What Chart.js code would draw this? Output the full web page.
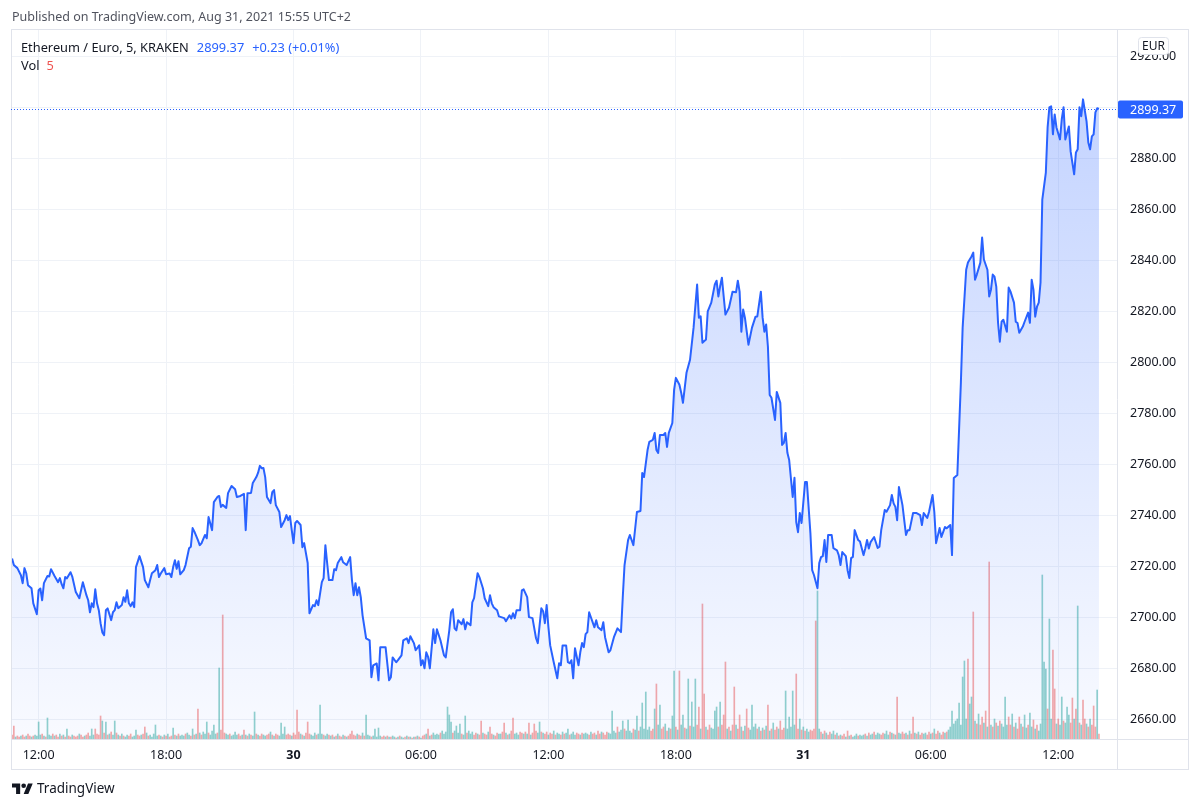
<!DOCTYPE html>
<html>
<head>
<meta charset="utf-8">
<title>ETH/EUR 5m</title>
<script src="https://cdn.jsdelivr.net/npm/chart.js@4.4.0/dist/chart.umd.min.js"></script>
<style>
  body { margin: 0; background: #fff; font-family: "Noto Sans", sans-serif; }
  #wrap { position: relative; width: 1200px; height: 808px; overflow: hidden; }
  #myChart { position: absolute; left: 0; top: 0; }
  .txt { position: absolute; white-space: nowrap; font-size: 13px; line-height: 16px; color: #131722; }
  .blue { color: #2962ff; margin-left: 8px; }
</style>
</head>
<body>
<div id="wrap">
  <canvas id="myChart" width="1200" height="808"></canvas>
  <div class="txt" style="left:12px;top:9px;color:#50535e;font-size:12.5px">Published on TradingView.com, Aug 31, 2021 15:55 UTC+2</div>
  <div class="txt" style="left:21px;top:39px;font-size:12.8px">Ethereum / Euro, 5, KRAKEN<span class="blue">2899.37</span><span class="blue">+0.23 (+0.01%)</span></div>
  <div class="txt" style="left:21px;top:57px;font-size:12.8px">Vol<span style="color:#ef5350;margin-left:7px">5</span></div>
  <svg style="position:absolute;left:12px;top:781px" width="21" height="16.5" viewBox="0 0 36 28">
    <path fill="#131722" d="M14 22H7V11H0V4h14v18zM28 22h-8l7.5-18h8L28 22z"/><circle fill="#131722" cx="20" cy="8" r="4"/>
  </svg>
  <div class="txt" style="left:37px;top:780px;font-size:13.5px">TradingView</div>
</div>
<script>
// time = minutes since 2021-08-29 00:00 UTC, 5 minute bars
const priceTimes = [
  645, 650, 660, 670, 675, 680, 685, 690, 700, 705, 715, 720,
  725, 730, 735, 745, 750, 755, 765, 775, 780, 785, 790, 795,
  800, 810, 815, 825, 835, 845, 855, 860, 865, 870, 875, 880,
  885, 890, 895, 900, 905, 910, 915, 925, 930, 935, 940, 945,
  955, 960, 965, 970, 975, 980, 985, 990, 995, 1005, 1015, 1020,
  1030, 1035, 1040, 1050, 1055, 1060, 1065, 1075, 1080, 1090, 1095, 1100,
  1105, 1110, 1115, 1120, 1130, 1135, 1145, 1150, 1155, 1160, 1170, 1175,
  1180, 1190, 1195, 1200, 1210, 1215, 1225, 1230, 1235, 1240, 1250, 1255,
  1265, 1275, 1280, 1290, 1300, 1305, 1310, 1320, 1325, 1335, 1340, 1345,
  1350, 1355, 1360, 1365, 1375, 1380, 1385, 1390, 1400, 1405, 1415, 1420,
  1425, 1430, 1435, 1440, 1445, 1450, 1460, 1465, 1470, 1480, 1485, 1495,
  1500, 1505, 1510, 1520, 1525, 1530, 1535, 1540, 1550, 1555, 1560, 1565,
  1575, 1580, 1590, 1600, 1605, 1610, 1615, 1620, 1625, 1630, 1635, 1645,
  1655, 1660, 1665, 1675, 1680, 1685, 1695, 1700, 1710, 1715, 1720, 1730,
  1735, 1745, 1750, 1760, 1765, 1770, 1780, 1785, 1795, 1800, 1805, 1810,
  1815, 1820, 1825, 1835, 1840, 1845, 1855, 1865, 1870, 1880, 1885, 1890,
  1895, 1900, 1905, 1915, 1920, 1925, 1930, 1940, 1945, 1950, 1960, 1965,
  1975, 1980, 1990, 1995, 2000, 2005, 2015, 2020, 2035, 2040, 2050, 2055,
  2060, 2065, 2070, 2080, 2085, 2090, 2100, 2105, 2115, 2125, 2130, 2140,
  2145, 2150, 2155, 2160, 2165, 2175, 2185, 2190, 2195, 2200, 2210, 2215,
  2220, 2225, 2230, 2235, 2245, 2250, 2255, 2260, 2265, 2270, 2275, 2290,
  2295, 2300, 2310, 2315, 2320, 2330, 2335, 2345, 2355, 2365, 2370, 2375,
  2385, 2390, 2400, 2410, 2420, 2425, 2430, 2440, 2445, 2455, 2460, 2465,
  2470, 2475, 2485, 2490, 2495, 2500, 2510, 2515, 2520, 2530, 2535, 2540,
  2545, 2550, 2560, 2570, 2580, 2585, 2590, 2595, 2605, 2610, 2620, 2630,
  2635, 2640, 2645, 2650, 2655, 2660, 2670, 2680, 2690, 2695, 2700, 2705,
  2710, 2715, 2725, 2735, 2745, 2750, 2760, 2765, 2770, 2775, 2780, 2785,
  2790, 2800, 2805, 2815, 2820, 2825, 2830, 2835, 2840, 2850, 2855, 2860,
  2865, 2870, 2875, 2885, 2890, 2900, 2905, 2910, 2920, 2925, 2930, 2935,
  2940, 2945, 2950, 2960, 2965, 2975, 2980, 2985, 2990, 3000, 3005, 3010,
  3015, 3020, 3025, 3035, 3040, 3050, 3055, 3060, 3065, 3070, 3080, 3090,
  3095, 3100, 3110, 3115, 3125, 3130, 3135, 3140, 3145, 3150, 3160, 3170,
  3175, 3180, 3190, 3200, 3210, 3215, 3220, 3230, 3235, 3245, 3250, 3255,
  3265, 3270, 3280, 3285, 3295, 3300, 3305, 3315, 3325, 3330, 3340, 3345,
  3355, 3360, 3365, 3370, 3380, 3385, 3390, 3400, 3405, 3410, 3415, 3420,
  3425, 3430, 3435, 3440, 3445, 3455, 3460, 3465, 3475, 3480, 3485, 3490,
  3500, 3505, 3515, 3520, 3525, 3530, 3535, 3540, 3545, 3550, 3555, 3565,
  3570, 3575, 3580, 3585, 3590, 3595, 3605, 3610, 3615, 3620, 3630, 3635,
  3645, 3650, 3655, 3660, 3665, 3670, 3680, 3685, 3690, 3695, 3700, 3705,
  3710, 3715
];
const prices = [
  2723.1, 2720.5, 2719.3, 2716.5, 2713.4, 2719.3, 2717.3, 2712.6, 2711.4, 2705.5, 2701.2, 2710.6,
  2711.3, 2706.7, 2713.4, 2716.2, 2716.0, 2718.9, 2716.2, 2713.8, 2715.4, 2713.0, 2711.4, 2715.8,
  2715.3, 2717.7, 2716.0, 2709.9, 2707.5, 2713.8, 2708.7, 2706.7, 2702.0, 2705.5, 2704.0, 2711.0,
  2705.5, 2702.8, 2697.7, 2694.1, 2693.0, 2702.8, 2703.5, 2698.9, 2702.0, 2702.8, 2705.9, 2703.6,
  2704.8, 2707.9, 2706.1, 2710.6, 2705.5, 2704.4, 2705.9, 2704.0, 2719.7, 2724.0, 2719.7, 2714.6,
  2711.8, 2714.6, 2717.3, 2718.5, 2720.5, 2715.8, 2717.2, 2719.3, 2716.9, 2717.2, 2715.8, 2719.7,
  2722.4, 2719.0, 2722.0, 2716.9, 2718.5, 2720.5, 2727.1, 2727.7, 2735.0, 2733.6, 2730.3, 2728.3,
  2729.0, 2732.3, 2731.0, 2739.3, 2734.2, 2745.2, 2747.2, 2747.6, 2743.3, 2744.1, 2742.9, 2748.7,
  2751.5, 2750.2, 2747.2, 2747.6, 2748.4, 2734.2, 2748.7, 2748.8, 2752.7, 2755.0, 2756.7, 2759.4,
  2758.5, 2758.6, 2755.0, 2747.2, 2744.8, 2749.1, 2749.9, 2744.0, 2741.3, 2735.4, 2738.1, 2740.1,
  2738.1, 2739.7, 2734.2, 2729.1, 2737.0, 2737.8, 2736.2, 2727.5, 2729.1, 2721.3, 2701.6, 2704.8,
  2704.4, 2706.7, 2704.8, 2713.8, 2715.4, 2728.3, 2721.3, 2714.6, 2714.6, 2718.9, 2718.5, 2721.3,
  2723.6, 2721.6, 2720.5, 2723.6, 2714.6, 2708.7, 2713.4, 2708.7, 2711.8, 2707.9, 2700.8, 2691.8,
  2691.0, 2676.5, 2681.2, 2681.9, 2675.3, 2688.3, 2688.3, 2688.3, 2675.3, 2676.5, 2684.3, 2682.4,
  2683.2, 2685.1, 2691.0, 2691.8, 2689.9, 2692.6, 2689.9, 2687.1, 2689.0, 2681.2, 2683.2, 2680.0,
  2686.3, 2684.5, 2680.0, 2695.3, 2689.9, 2695.3, 2691.0, 2685.1, 2684.3, 2694.9, 2702.0, 2703.2,
  2695.7, 2694.9, 2698.9, 2697.3, 2699.3, 2695.3, 2698.1, 2696.9, 2705.9, 2707.5, 2717.3, 2715.8,
  2711.4, 2707.5, 2704.4, 2708.7, 2705.5, 2704.0, 2702.8, 2700.4, 2699.7, 2698.5, 2700.8, 2699.5,
  2701.6, 2699.7, 2702.8, 2702.8, 2710.6, 2711.0, 2707.9, 2700.1, 2699.7, 2691.8, 2689.9, 2703.6,
  2702.4, 2697.7, 2704.8, 2696.1, 2689.0, 2682.4, 2676.1, 2682.0, 2681.2, 2689.0, 2689.0, 2682.4,
  2682.0, 2683.2, 2676.1, 2687.9, 2681.2, 2686.3, 2689.9, 2688.3, 2693.4, 2694.2, 2702.0, 2696.1,
  2698.9, 2696.1, 2695.0, 2698.1, 2692.2, 2686.3, 2687.1, 2692.2, 2695.7, 2694.2, 2707.9, 2720.5,
  2730.3, 2732.3, 2728.3, 2741.3, 2741.7, 2756.6, 2755.0, 2765.6, 2768.8, 2769.6, 2772.3, 2765.6,
  2764.5, 2771.5, 2771.5, 2772.3, 2766.8, 2772.3, 2776.2, 2789.2, 2793.9, 2791.2, 2788.1, 2784.1,
  2790.0, 2795.9, 2801.0, 2813.6, 2830.5, 2817.5, 2818.0, 2807.7, 2808.9, 2820.0, 2823.4, 2830.5,
  2832.0, 2825.8, 2829.8, 2833.2, 2825.9, 2818.7, 2821.4, 2827.7, 2827.5, 2832.0, 2827.7, 2812.0,
  2820.7, 2817.5, 2806.9, 2813.6, 2817.9, 2818.0, 2827.7, 2817.5, 2812.0, 2814.8, 2806.1, 2787.2,
  2786.1, 2777.4, 2788.4, 2784.1, 2767.6, 2768.4, 2772.3, 2764.5, 2761.7, 2747.2, 2754.7, 2737.4,
  2733.4, 2740.9, 2737.0, 2753.1, 2753.1, 2733.0, 2718.5, 2716.6, 2711.4, 2721.3, 2723.6, 2724.0,
  2730.3, 2721.7, 2732.3, 2732.3, 2727.1, 2726.3, 2724.4, 2720.5, 2725.6, 2724.0, 2718.5, 2715.4,
  2723.2, 2723.7, 2734.2, 2730.3, 2729.7, 2724.4, 2727.0, 2730.3, 2727.0, 2729.5, 2731.5, 2727.2,
  2727.7, 2734.2, 2742.1, 2741.4, 2744.0, 2748.0, 2744.7, 2743.3, 2738.1, 2751.1, 2744.0, 2732.3,
  2734.2, 2734.2, 2740.9, 2740.9, 2740.1, 2736.2, 2740.9, 2739.0, 2741.3, 2748.0, 2741.3, 2729.1,
  2735.0, 2731.5, 2735.4, 2734.9, 2736.2, 2724.4, 2754.6, 2755.8, 2792.0, 2813.6, 2836.3, 2839.1,
  2841.5, 2843.0, 2832.4, 2834.4, 2839.1, 2848.9, 2840.3, 2836.3, 2825.8, 2828.5, 2834.4, 2833.6,
  2829.7, 2815.5, 2808.1, 2815.9, 2816.7, 2812.0, 2829.3, 2827.8, 2823.4, 2815.9, 2815.4, 2811.6,
  2814.0, 2815.9, 2819.5, 2815.5, 2832.4, 2828.5, 2817.9, 2821.8, 2823.4, 2831.3, 2863.8, 2874.4,
  2892.1, 2900.0, 2900.4, 2889.4, 2897.2, 2892.1, 2887.4, 2895.3, 2900.0, 2887.4, 2892.5, 2882.7,
  2873.7, 2882.3, 2883.5, 2900.0, 2896.5, 2903.1, 2894.5, 2886.2, 2883.5, 2888.6, 2889.4, 2898.0,
  2899.6, 2899.37
];

// volume, one row per hour of 5 minute bars, first bar at 10:45 on Aug 29
const volStart = 645;
const volRows = [
  [4, 13, 2, 3, 2, 3, 4, 2, 3, 5, 3, 2],
  [3, 4, 3, 17, 4, 5, 3, 2, 21, 4, 3, 5],
  [3, 4, 2, 5, 3, 4, 2, 10, 3, 2, 4, 3],
  [2, 3, 5, 4, 2, 3, 4, 6, 3, 10, 4, 10],
  [5, 4, 23, 18, 6, 17, 4, 5, 7, 4, 18, 6],
  [4, 3, 5, 3, 2, 4, 3, 5, 2, 3, 9, 4],
  [3, 4, 5, 12, 6, 3, 4, 2, 5, 14, 3, 4],
  [3, 2, 4, 3, 5, 2, 3, 11, 4, 3, 5, 3],
  [4, 3, 5, 6, 4, 3, 10, 4, 5, 30, 6, 4],
  [7, 5, 17, 6, 4, 8, 14, 5, 6, 71, 9, 124],
  [6, 5, 4, 5, 3, 4, 7, 4, 5, 3, 4, 9],
  [4, 3, 5, 4, 3, 27, 5, 4, 3, 5, 4, 3],
  [4, 5, 7, 4, 3, 5, 4, 3, 16, 5, 12, 4],
  [5, 4, 3, 6, 4, 29, 7, 5, 4, 3, 6, 17],
  [5, 4, 3, 6, 4, 5, 34, 5, 4, 3, 5, 4],
  [3, 4, 2, 3, 5, 3, 2, 4, 3, 2, 3, 5],
  [8, 4, 3, 5, 4, 3, 6, 3, 24, 4, 3, 2],
  [3, 10, 2, 11, 3, 2, 3, 2, 3, 2, 2, 3],
  [2, 1, 2, 3, 2, 1, 2, 3, 2, 2, 1, 2],
  [2, 3, 2, 1, 3, 4, 5, 10, 3, 4, 6, 4],
  [5, 4, 6, 8, 5, 7, 32, 24, 17, 6, 8, 13],
  [6, 15, 5, 4, 23, 6, 8, 5, 7, 4, 6, 5],
  [4, 18, 6, 5, 4, 7, 12, 5, 4, 3, 6, 5],
  [5, 7, 16, 6, 4, 5, 8, 21, 5, 6, 4, 7],
  [6, 5, 7, 5, 16, 4, 6, 15, 8, 6, 17, 7],
  [6, 5, 7, 4, 6, 5, 8, 4, 6, 5, 4, 7],
  [5, 6, 10, 4, 5, 7, 4, 6, 5, 4, 6, 5],
  [6, 5, 4, 7, 5, 6, 4, 8, 5, 7, 6, 4],
  [7, 6, 5, 28, 8, 6, 12, 7, 9, 18, 10, 8],
  [19, 8, 6, 10, 9, 23, 8, 12, 36, 10, 47, 9],
  [12, 8, 10, 30, 55, 14, 34, 10, 12, 15, 8, 11],
  [10, 23, 68, 12, 9, 68, 14, 24, 11, 10, 60, 13],
  [37, 12, 60, 14, 32, 10, 135, 45, 12, 9, 14, 11],
  [10, 28, 32, 12, 37, 14, 24, 77, 10, 12, 8, 14],
  [52, 14, 10, 24, 12, 8, 13, 30, 11, 9, 34, 12],
  [15, 10, 12, 8, 11, 9, 13, 34, 8, 10, 16, 9],
  [12, 10, 18, 9, 11, 48, 10, 22, 12, 48, 14, 65],
  [10, 20, 9, 12, 8, 10, 7, 9, 8, 10, 118, 148],
  [10, 7, 5, 8, 6, 4, 7, 5, 8, 4, 6, 3],
  [4, 3, 5, 2, 8, 3, 4, 2, 3, 5, 3, 4],
  [3, 4, 5, 3, 6, 4, 5, 7, 4, 6, 5, 4],
  [6, 5, 8, 4, 7, 6, 5, 4, 42, 6, 5, 7],
  [5, 6, 4, 8, 5, 22, 6, 5, 7, 4, 6, 5],
  [6, 4, 7, 5, 6, 10, 5, 8, 6, 4, 7, 6],
  [7, 9, 12, 28, 15, 18, 20, 36, 14, 62, 78, 20],
  [80, 35, 42, 127, 18, 15, 25, 14, 22, 16, 28, 12],
  [177, 14, 12, 20, 16, 13, 18, 15, 12, 42, 14, 22],
  [14, 25, 12, 16, 10, 22, 15, 12, 24, 11, 14, 26],
  [12, 19, 10, 14, 8, 15, 164, 77, 70, 30, 120, 20],
  [89, 50, 15, 20, 14, 42, 18, 16, 32, 24, 16, 41],
  [20, 30, 133, 16, 14, 39, 20, 15, 12, 20, 14, 33],
  [12, 49, 5]
];
// g = close up, r = close down
const volDirRows = [
  "rrgrrgrrgrrg", "rggggrgrgggr", "grrgrgrgrrgr", "rrgrrgrrgggr",
  "rrrgrgrgrggr", "grgrggrrgggr", "rgrrgrgggggr", "grgrgrrgrgrg",
  "ggrggrgrgrgr", "gggrggggrgrr", "rggrggggrrgr", "grgrggrgrrgg",
  "rrgrgrrggggr", "rrgrrrrgrgrr", "rgggrgggrggr", "grgrgrrgrgrr",
  "rrrgrrgrgggr", "gggggrrgrgrg", "grgrggrgrgrg", "rgrgrrgrgrgg",
  "ggrggggggrgg", "ggrggrgggrrg", "rrgrrgrrgrrg", "grrgrgrrgggr",
  "rgrgrgrrrggr", "grrgrrgrggrg", "rggrgggrrgrg", "ggrgrrgrrgrr",
  "rgggggrgggrg", "gggrggrggggg", "grrgrggrrgrg", "rggrgrggrggr",
  "gggrrgrrgrrg", "gggrgrrrgrgr", "rgrrgrgrrggg", "grgrgrgrgrgr",
  "rgrrrggggggr", "rgrgrggrrrrg", "grgrgrrggrgr", "grrgrgrgggrg",
  "ggrgrggrgggr", "rgggrgrgrggr", "rgrgrrgrgrrg", "grrgrgrrgrrg",
  "rggggggggggg", "rggrgrgrrgrg", "rgrgrgrggggr", "rgrgrrgrggrg",
  "grgrgggggrgg", "rrgrggrgggrr", "grgrgrrgrgrr", "rgr"
];

const tickMinutes = [720, 1080, 1440, 1800, 2160, 2520, 2880, 3240, 3600];
const tickLabels = ["12:00", "18:00", "30", "06:00", "12:00", "18:00", "31", "06:00", "12:00"];
const dayTicks = [1440, 2880];
const priceTicks = [2660, 2680, 2700, 2720, 2740, 2760, 2780, 2800, 2820, 2840, 2860, 2880, 2900, 2920];

const volData = [];
const volColors = [];
const volDirs = volDirRows.join("");
volRows.flat().forEach((v, i) => {
  volData.push({ x: volStart + 5 * i, y: v });
  volColors.push(volDirs[i] === "g" ? "rgba(38,166,154,0.5)" : "rgba(239,83,80,0.5)");
});

const FONT = '"Noto Sans", sans-serif';
Chart.defaults.font.family = FONT;

function roundRect(ctx, x, y, w, h, r) {
  ctx.beginPath();
  ctx.moveTo(x + r, y);
  ctx.arcTo(x + w, y, x + w, y + h, r);
  ctx.arcTo(x + w, y + h, x, y + h, r);
  ctx.arcTo(x, y + h, x, y, r);
  ctx.arcTo(x, y, x + w, y, r);
  ctx.closePath();
}

// white page, frame, last price line/label, currency box
const tvFrame = {
  id: "tvFrame",
  beforeDraw(chart) {
    const ctx = chart.ctx;
    ctx.save();
    ctx.fillStyle = "#fff";
    ctx.fillRect(0, 0, chart.width, chart.height);
    ctx.restore();
  },
  afterDraw(chart) {
    const ctx = chart.ctx;
    const a = chart.chartArea;
    const last = prices[prices.length - 1];
    const py = Math.round(chart.scales.y.getPixelForValue(last)) + 0.5;
    ctx.save();
    ctx.strokeStyle = "#e0e3eb";
    ctx.lineWidth = 1;
    ctx.strokeRect(11.5, 29.5, 1177, 740);
    ctx.beginPath();
    ctx.moveTo(Math.round(a.right) + 0.5, 29.5);
    ctx.lineTo(Math.round(a.right) + 0.5, 769.5);
    ctx.moveTo(11.5, Math.round(a.bottom) + 0.5);
    ctx.lineTo(1188.5, Math.round(a.bottom) + 0.5);
    ctx.stroke();

    ctx.strokeStyle = "#2962ff";
    ctx.setLineDash([1, 2]);
    ctx.beginPath();
    ctx.moveTo(a.left, py);
    ctx.lineTo(a.right, py);
    ctx.stroke();
    ctx.setLineDash([]);

    ctx.fillStyle = "#2962ff";
    roundRect(ctx, a.right + 1, py - 9, 65, 18, 2);
    ctx.fill();
    ctx.fillStyle = "#fff";
    ctx.font = "12.5px " + FONT;
    ctx.textBaseline = "middle";
    ctx.textAlign = "left";
    ctx.fillText(last.toFixed(2), a.right + 13, py + 0.5);

    ctx.fillStyle = "#fff";
    ctx.strokeStyle = "#e0e3eb";
    roundRect(ctx, 1138.5, 37.5, 30, 17, 3);
    ctx.fill();
    ctx.stroke();
    ctx.fillStyle = "#131722";
    ctx.textAlign = "center";
    ctx.font = "12px " + FONT;
    ctx.fillText("EUR", 1153.5, 46.5);
    ctx.restore();
  }
};

const ctx = document.getElementById("myChart").getContext("2d");
const myChart = new Chart(ctx, {
  type: "line",
  data: {
    datasets: [
      {
        type: "line",
        label: "ETH/EUR",
        data: priceTimes.map((t, i) => ({ x: t, y: prices[i] })),
        yAxisID: "y",
        borderColor: "#2962ff",
        borderWidth: 2,
        borderJoinStyle: "round",
        pointRadius: 0,
        tension: 0,
        fill: "start",
        backgroundColor: (c) => {
          const area = c.chart.chartArea;
          if (!area) return "rgba(41,98,255,0.1)";
          const g = c.chart.ctx.createLinearGradient(0, area.top, 0, area.bottom);
          g.addColorStop(0, "rgba(41,98,255,0.30)");
          g.addColorStop(1, "rgba(41,98,255,0.03)");
          return g;
        },
        order: 0,
      },
      {
        type: "bar",
        label: "Vol",
        data: volData,
        yAxisID: "yv",
        backgroundColor: volColors,
        borderWidth: 0,
        barThickness: 1,
        order: 1,
      },
    ],
  },
  options: {
    responsive: false,
    animation: false,
    events: [],
    layout: { padding: { left: 11, right: 11, top: 30, bottom: 38 } },
    scales: {
      x: {
        type: "linear",
        position: "bottom",
        offset: false,
        min: 642,
        max: 3766,
        afterBuildTicks: (s) => { s.ticks = tickMinutes.map((v) => ({ value: v })); },
        afterFit: (s) => { s.height = 31; },
        ticks: {
          autoSkip: false,
          maxRotation: 0,
          padding: 9,
          color: "#131722",
          callback: (v, i) => tickLabels[i],
          font: (c) => ({
            family: FONT,
            size: 12.5,
            weight: c.tick && dayTicks.includes(c.tick.value) ? "bold" : "normal",
          }),
        },
        grid: { color: "#eff2f7", drawTicks: false, offset: false },
        border: { display: false },
      },
      y: {
        position: "right",
        min: 2652.3,
        max: 2930.3,
        afterBuildTicks: (s) => { s.ticks = priceTicks.map((v) => ({ value: v })); },
        afterFit: (s) => { s.width = 72; },
        ticks: {
          padding: 13,
          color: "#131722",
          font: { family: FONT, size: 12.5 },
          callback: (v) => v.toFixed(2),
        },
        grid: { color: "#eff2f7", drawTicks: false },
        border: { display: false },
      },
      yv: {
        display: false,
        min: 0,
        max: 709,
      },
    },
    plugins: {
      legend: { display: false },
      tooltip: { enabled: false },
    },
  },
  plugins: [tvFrame],
});
</script>
</body>
</html>
